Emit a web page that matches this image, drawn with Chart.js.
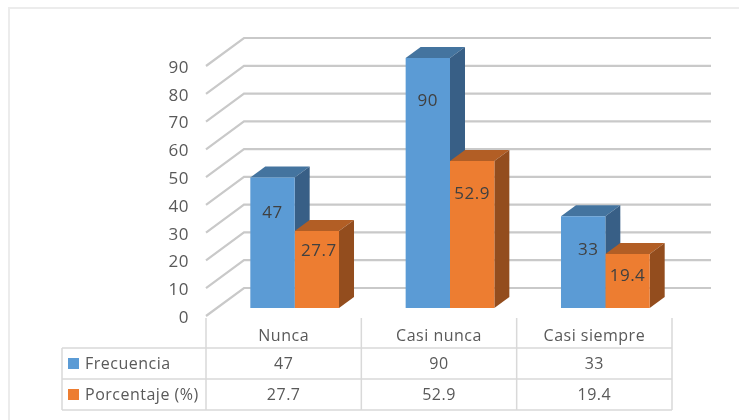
<!DOCTYPE html>
<html lang="es">
<head>
<meta charset="UTF-8">
<title>Frecuencia y porcentaje</title>
<script src="https://cdn.jsdelivr.net/npm/chart.js"></script>
<style>
  html, body { margin: 0; padding: 0; background: #fff; }
  #wrap { position: relative; width: 739px; height: 420px; }
  canvas { filter: blur(0.45px); }
</style>
</head>
<body>
<div id="wrap"><canvas id="chart" width="739" height="420"></canvas></div>
<script>
const categories = ['Nunca', 'Casi nunca', 'Casi siempre'];
const frecuencia = [47, 90, 33];
const porcentaje = [27.7, 52.9, 19.4];
const seriesNames = ['Frecuencia', 'Porcentaje (%)'];
const yTicks = [0, 10, 20, 30, 40, 50, 60, 70, 80, 90];

// colores: frente, tapa, lado
const blue = ['#5b9bd5', '#44749f', '#385f86'];
const orange = ['#ed7d31', '#b25e25', '#934d1e'];
const FONT = '"Open Sans"';
const TEXT = '#595959';

// fake 3D: the wall runs back, bars stand part of the way in
const WALL = { x: 38, y: -28, right: 39 };
const BAR = { dx: 11, dy: -8, depthX: 15, depthY: -11 };
// where Excel left the value labels, measured from the top of each bar
const labelShift = [
  [[0, 36], [0, 43], [5, 34]],
  [[2, 20], [0, 33], [0, 22]]
];
const TABLE = { left: 62, rows: [348, 379, 410] };

const box3d = {
  id: 'box3d',
  beforeDraw(chart) {
    const { ctx, scales: { x, y } } = chart;
    ctx.letterSpacing = '0.5px';
    // y tick text sits a little low in the original
    y.getLabelItems(chart.chartArea).forEach(item => { item.options.translation[1] += 2; });
    ctx.save();
    // marco exterior
    ctx.strokeStyle = '#ececec';
    ctx.lineWidth = 2;
    ctx.beginPath();
    ctx.moveTo(9, 420);
    ctx.lineTo(9, 8);
    ctx.lineTo(739, 8);
    ctx.stroke();
    // paredes y lineas de fondo
    ctx.strokeStyle = '#c9c9c9';
    ctx.lineWidth = 2.2;
    yTicks.forEach(v => {
      const py = y.getPixelForValue(v);
      ctx.beginPath();
      ctx.moveTo(x.left, py);
      ctx.lineTo(x.left + WALL.x, py + WALL.y);
      ctx.lineTo(x.right + WALL.right, py + WALL.y);
      ctx.stroke();
    });
    ctx.restore();
  },
  beforeDatasetsDraw(chart) {
    const { ctx } = chart;
    const faces = [blue, orange];
    ctx.save();
    ctx.translate(BAR.dx, BAR.dy);
    [0, 1].forEach(i => {
      chart.getDatasetMeta(i).data.forEach(bar => {
        const l = bar.x - bar.width / 2, r = bar.x + bar.width / 2;
        // tapa
        ctx.fillStyle = faces[i][1];
        ctx.beginPath();
        ctx.moveTo(l, bar.y);
        ctx.lineTo(l + BAR.depthX, bar.y + BAR.depthY);
        ctx.lineTo(r + BAR.depthX, bar.y + BAR.depthY);
        ctx.lineTo(r, bar.y);
        ctx.closePath();
        ctx.fill();
        // lado
        ctx.fillStyle = faces[i][2];
        ctx.beginPath();
        ctx.moveTo(r, bar.y);
        ctx.lineTo(r + BAR.depthX, bar.y + BAR.depthY);
        ctx.lineTo(r + BAR.depthX, bar.base + BAR.depthY);
        ctx.lineTo(r, bar.base);
        ctx.closePath();
        ctx.fill();
      });
    });
  },
  afterDatasetsDraw(chart) {
    const { ctx } = chart;
    ctx.restore();
    ctx.save();
    ctx.font = '17px ' + FONT;
    ctx.fillStyle = '#404040';
    ctx.textAlign = 'center';
    ctx.textBaseline = 'middle';
    [frecuencia, porcentaje].forEach((vals, i) => {
      chart.getDatasetMeta(i).data.forEach((bar, j) => {
        const s = labelShift[i][j];
        ctx.fillText(vals[j], bar.x + BAR.dx + s[0], bar.y + BAR.dy + s[1]);
      });
    });
    ctx.restore();
  },
  afterDraw(chart) {
    const { ctx, scales: { x } } = chart;
    const rows = TABLE.rows;
    ctx.save();
    ctx.strokeStyle = '#d9d9d9';
    ctx.lineWidth = 1.5;
    ctx.beginPath();
    rows.forEach(r => { ctx.moveTo(TABLE.left, r); ctx.lineTo(x.right, r); });
    ctx.moveTo(TABLE.left, rows[0]);
    ctx.lineTo(TABLE.left, rows[2]);
    const step = (x.right - x.left) / categories.length;
    for (let k = 0; k <= categories.length; k++) {
      ctx.moveTo(x.left + k * step, 318);
      ctx.lineTo(x.left + k * step, rows[2]);
    }
    ctx.stroke();

    ctx.font = '16px ' + FONT;
    ctx.textBaseline = 'middle';
    [frecuencia, porcentaje].forEach((vals, i) => {
      const cy = (rows[i] + rows[i + 1]) / 2;
      ctx.fillStyle = [blue, orange][i][0];
      ctx.fillRect(TABLE.left + 6, cy - 5.5, 11, 11);
      ctx.fillStyle = TEXT;
      ctx.textAlign = 'left';
      ctx.fillText(seriesNames[i], TABLE.left + 23, cy + 1);
      ctx.textAlign = 'center';
      vals.forEach((v, j) => ctx.fillText(v, x.getPixelForTick(j), cy + 1));
    });
    ctx.restore();
  }
};

new Chart(document.getElementById('chart'), {
  type: 'bar',
  data: {
    labels: categories,
    datasets: [
      { label: seriesNames[0], data: frecuencia, backgroundColor: blue[0] },
      { label: seriesNames[1], data: porcentaje, backgroundColor: orange[0] }
    ]
  },
  options: {
    responsive: false,
    animation: false,
    events: [],
    layout: { padding: { left: 0, right: 67, top: 66, bottom: 0 } },
    plugins: { legend: { display: false }, tooltip: { enabled: false } },
    datasets: { bar: { categoryPercentage: 0.571, barPercentage: 1 } },
    scales: {
      x: {
        afterFit(s) { s.height = 104; },
        border: { display: false },
        grid: { display: false, drawTicks: false },
        ticks: { padding: 11, maxRotation: 0, color: TEXT, font: { family: FONT, size: 16 } }
      },
      y: {
        min: 0,
        max: 90,
        afterFit(s) { s.width = 206; },
        afterBuildTicks(s) { s.ticks = yTicks.map(v => ({ value: v })); },
        border: { display: false },
        grid: { display: false, drawTicks: false },
        ticks: { padding: 17, color: TEXT, font: { family: FONT, size: 17 } }
      }
    }
  },
  plugins: [box3d]
});
</script>
</body>
</html>
